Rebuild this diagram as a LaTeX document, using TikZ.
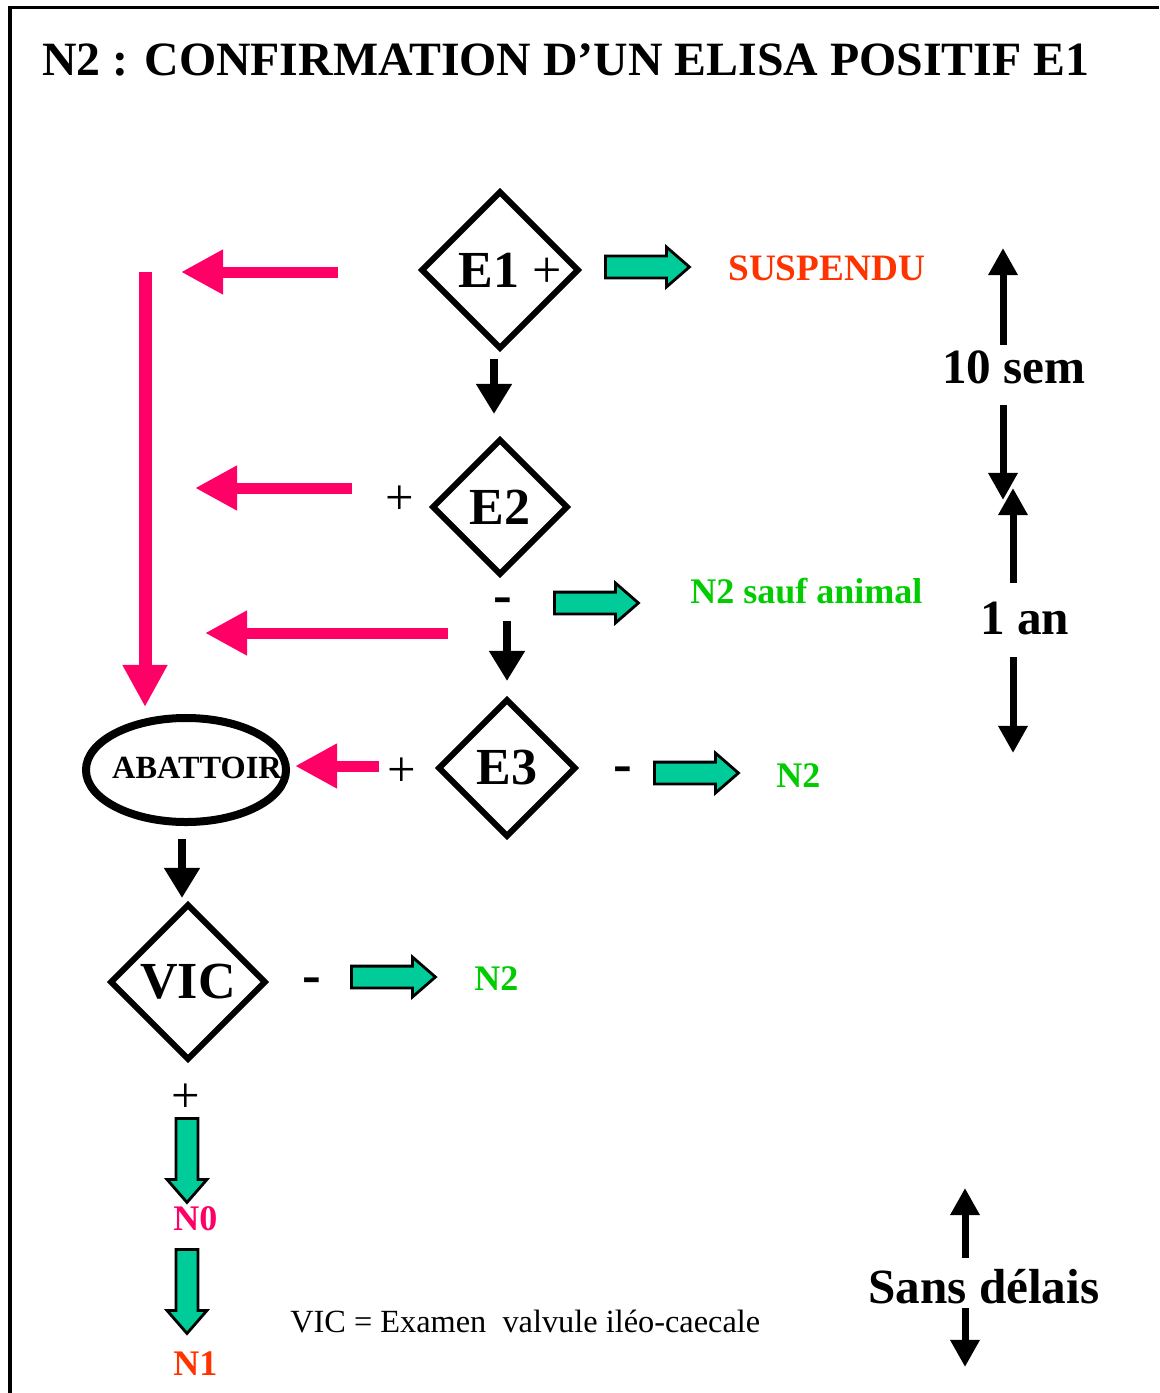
\documentclass[tikz,border=0pt]{standalone}
\usepackage{fontspec}
\setmainfont{Liberation Serif}
\usetikzlibrary{shapes.geometric,shapes.arrows,arrows.meta,calc}

\definecolor{alarm}{RGB}{255,0,102}
\definecolor{okfill}{RGB}{0,204,153}
\definecolor{okgreen}{RGB}{0,204,0}
\definecolor{stopred}{RGB}{255,51,0}

\tikzset{
  test/.style={diamond, draw, line width=0.15cm, aspect=1, inner sep=0pt,
    font=\fontsize{37}{40}\selectfont\bfseries},
  alarm arrow/.style={draw=alarm, line width=0.275cm,
    -{Triangle[length=1.05cm,width=1.05cm]}},
  flow/.style={line width=0.2cm, -{Triangle[length=0.75cm,width=0.85cm]}},
  span/.style={line width=0.175cm, -{Triangle[length=0.68cm,width=0.7cm]}},
  okarrow/.style={single arrow, draw, fill=okfill, line width=0.07cm,
    minimum height=2.1cm, inner xsep=0pt, inner ysep=0.2375cm,
    single arrow head extend=0.225cm, single arrow tip angle=82, anchor=tail},
  okdown/.style={okarrow, shape border rotate=270, inner xsep=0.2375cm, inner ysep=0pt},
  sign/.style={font=\fontsize{36}{38}\selectfont},
  minus/.style={font=\fontsize{40}{42}\selectfont\bfseries},
  result/.style={anchor=base west, inner xsep=0pt, font=\fontsize{25.6}{28}\selectfont\bfseries},
  delay/.style={anchor=base west, inner xsep=0pt, font=\fontsize{35}{38}\selectfont\bfseries}
}

\begin{document}
\begin{tikzpicture}[x=0.025cm, y=-0.025cm]
\useasboundingbox (0,0) rectangle (1159,1393);
% frame: only top and left edges show
\draw[line width=0.075cm] (10,1393) -- (10,8) -- (1159,8);
\node[anchor=base west, inner xsep=0pt, font=\fontsize{34}{36}\selectfont\bfseries] (title) at (42,75)
  {N2 : CONFIRMATION D'UN ELISA POSITIF E1};

% the three ELISA tests and the VIC
\node[test, minimum size=3.8cm] (E1) at (500,270) {\hspace{0.4em}E1 \textmd{+}};
\node[test, minimum size=3.4cm] (E2) at (500,507) {E2};
\node[test, minimum size=3.45cm] (E3) at (507,768) {E3};
\node[test, minimum size=3.9cm] (VIC) at (188,982) {VIC};
\node[ellipse, draw, line width=0.2cm, minimum width=5cm, minimum height=2.6cm] (abat) at (186,770) {};
\node[font=\fontsize{23}{25}\selectfont\bfseries] (abatlbl) at (197,768) {ABATTOIR};

% signs
\node[sign] (p2) at (400,500) {+};
\node[minus] (m2) at (503,606) {-};
\node[sign] (p3) at (402,772) {+};
\node[minus] (m3) at (623,775) {-};
\node[minus] (m4) at (312,986) {-};
\node[sign] (p4) at (186,1098) {+};

% black flow
\draw[flow] ($(E1.south)+(-6,7)$) -- ($(E2.north)+(-6,-22)$);
\draw[flow] ($(E3.north)+(0,-75)$) -- ($(E3.north)+(0,-15)$);
\draw[flow] ($(abat.south)+(-4,13)$) -- ($(VIC.north)+(-6,-3)$);

% positive results go to slaughter
\coordinate (r1s) at (338,272); \coordinate (r1e) at (181,272);
\coordinate (r2s) at (352,488); \coordinate (r2e) at (195,488);
\coordinate (r3s) at (448,633); \coordinate (r3e) at (205,633);
\coordinate (abtop) at (145,272); \coordinate (abin) at (145,707);
\draw[alarm arrow] (r1s) -- (r1e);
\draw[alarm arrow] (r2s) -- (r2e);
\draw[alarm arrow] (r3s) -- (r3e);
\draw[alarm arrow, line width=0.325cm] (abtop) -- (abin);
\draw[alarm arrow] ($(abat.east)+(89,-4)$) -- ($(abat.east)+(5,-4)$);

% outcomes
\node[okarrow] (go1) at (604,267) {};
\node[okarrow] (go2) at (553,603) {};
\node[okarrow] (go3) at (653,773) {};
\node[okarrow] (go4) at (350,977) {};
\node[okdown] (gdown1) at (187,1117) {};
\node[okdown] (gdown2) at (187,1248) {};
\node[result, text=stopred, font=\fontsize{26.5}{28}\selectfont\bfseries] (susp) at (728,280) {SUSPENDU};
\node[result, text=okgreen] (sauf) at (690,603) {N2 sauf animal};
\node[result, text=okgreen] (n2a) at (776,787) {N2};
\node[result, text=okgreen] (n2b) at (474,990) {N2};
\node[result, text=alarm] (n0) at (173,1230) {N0};
\node[result, text=stopred] (n1) at (173,1375) {N1};
\node[anchor=base west, inner xsep=0pt, font=\fontsize{23}{25}\selectfont] (legend) at (290,1332)
  {VIC = Examen\ \ valvule iléo-caecale};

% delays
\node[delay] (sem) at (942,383) {10 sem};
\node[delay] (an) at (980,634) {1 an};
\node[delay] (sans) at (868,1303) {Sans délais};
\coordinate (semA) at (1003,345); \coordinate (semT) at (1003,248);
\coordinate (semB) at (1003,405); \coordinate (semD) at (1003,500);
\coordinate (anA) at (1013,583); \coordinate (anT) at (1013,488);
\coordinate (anB) at (1013,657); \coordinate (anD) at (1013,753);
\coordinate (sansA) at (965,1258); \coordinate (sansT) at (965,1188);
\coordinate (sansB) at (965,1308); \coordinate (sansD) at (965,1367);
\draw[span] (semA) -- (semT);
\draw[span] (semB) -- (semD);
\draw[span] (anA) -- (anT);
\draw[span] (anB) -- (anD);
\draw[span] (sansA) -- (sansT);
\draw[span] (sansB) -- (sansD);
\end{tikzpicture}
\end{document}
